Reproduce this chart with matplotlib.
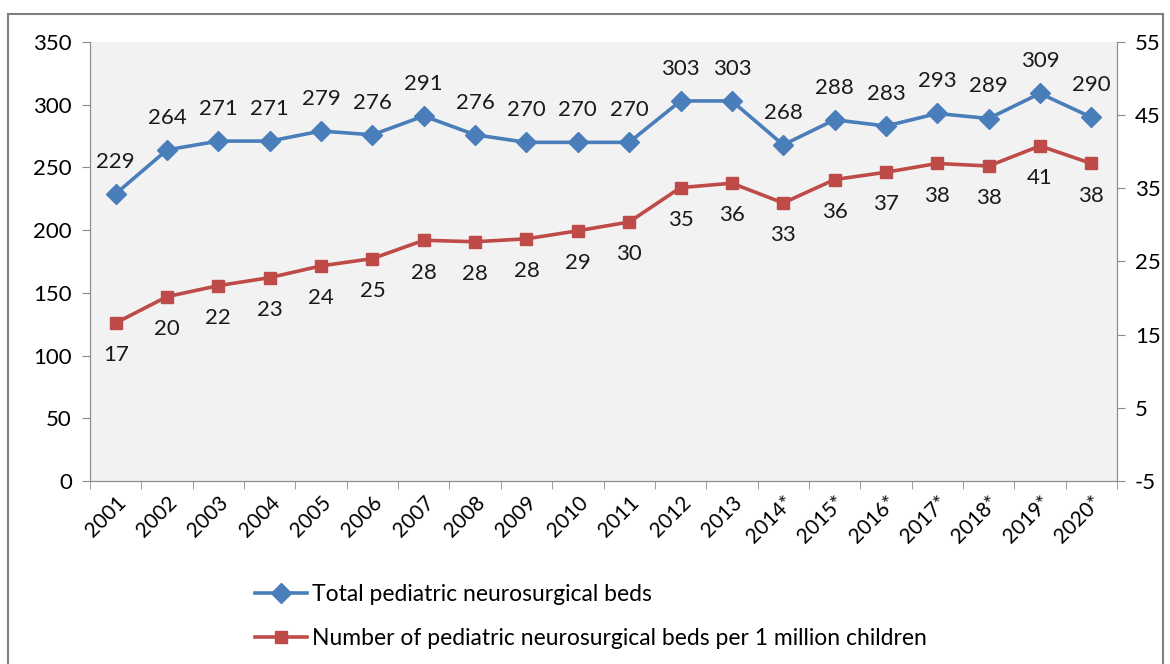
import matplotlib.pyplot as plt
import matplotlib.patches as mpatches
import numpy as np

plt.rcParams['font.family'] = ['Lato', 'DejaVu Sans']
plt.rcParams['axes.unicode_minus'] = False

years = ['2001', '2002', '2003', '2004', '2005', '2006', '2007', '2008', '2009', '2010',
         '2011', '2012', '2013', '2014*', '2015*', '2016*', '2017*', '2018*', '2019*', '2020*']
total_beds = [229, 264, 271, 271, 279, 276, 291, 276, 270, 270,
              270, 303, 303, 268, 288, 283, 293, 289, 309, 290]
beds_per_million = [16.6, 20.2, 21.7, 22.8, 24.4, 25.4, 27.9, 27.7, 28.1, 29.2,
                    30.4, 35.1, 35.7, 33.0, 36.2, 37.2, 38.4, 38.05, 40.8, 38.4]
per_million_labels = [17, 20, 22, 23, 24, 25, 28, 28, 28, 29,
                      30, 35, 36, 33, 36, 37, 38, 38, 41, 38]

blue = '#4A7EBB'
red = '#BE4B48'
spine_col = '#8C8C8C'

fig = plt.figure(figsize=(11.7, 6.64), dpi=100)
ax = fig.add_axes([90 / 1170, 1 - 481 / 664, (1117 - 90) / 1170, (481 - 42) / 664])
ax2 = ax.twinx()

x = np.arange(len(years))

ax.set_facecolor('#F2F2F2')
ax.plot(x, total_beds, color=blue, lw=2.6, marker='D', ms=10, zorder=3)
ax2.plot(x, beds_per_million, color=red, lw=2.6, marker='s', ms=9, zorder=3)

for xi, v in zip(x, total_beds):
    ax.annotate(str(v), (xi, v), xytext=(0, 16), textcoords='offset points',
                ha='center', va='bottom', fontsize=16, color='#1a1a1a')
for xi, v, lab in zip(x, beds_per_million, per_million_labels):
    ax2.annotate(str(lab), (xi, v), xytext=(0, -16), textcoords='offset points',
                 ha='center', va='top', fontsize=16, color='#1a1a1a')

ax.set_xlim(-0.5, len(years) - 0.5)
ax.set_ylim(0, 350)
ax.set_yticks(np.arange(0, 351, 50))
ax2.set_ylim(-5, 55)
ax2.set_yticks(np.arange(-5, 56, 10))

ax.set_xticks(x)
ax.set_xticklabels(years, rotation=45, ha='right', rotation_mode='anchor', fontsize=15)
ax.tick_params(axis='x', length=0, pad=8)
ax.set_xticks(np.arange(-0.5, len(years), 1), minor=True)
ax.tick_params(axis='x', which='minor', length=6, color=spine_col, direction='out')
ax.tick_params(axis='y', labelsize=16, length=6, color=spine_col, pad=7)
ax2.tick_params(axis='y', labelsize=16, length=6, color=spine_col, pad=7)

for a in (ax, ax2):
    a.spines['top'].set_visible(False)
    for s in ('left', 'right', 'bottom'):
        a.spines[s].set_color(spine_col)

# legend below the plot
h1, = ax.plot([], [], color=blue, lw=2.6, marker='D', ms=10)
h2, = ax.plot([], [], color=red, lw=2.6, marker='s', ms=9)
fig.legend([h1, h2], ['Total pediatric neurosurgical beds',
                      'Number of pediatric neurosurgical beds per 1 million children'],
           loc='upper left', bbox_to_anchor=(234 / 1170, 1 - 563 / 664), frameon=False,
           fontsize=16.5, handlelength=2.3, handletextpad=0.2, labelspacing=1.0)

# outer chart frame
fig.patches.append(mpatches.Rectangle((8 / 1170, -0.05), (1163 - 8) / 1170, 1.05 - 14 / 664,
                                      transform=fig.transFigure, fill=False,
                                      edgecolor='#7F7F7F', lw=1.5))

fig.savefig('out.png', dpi=100)
